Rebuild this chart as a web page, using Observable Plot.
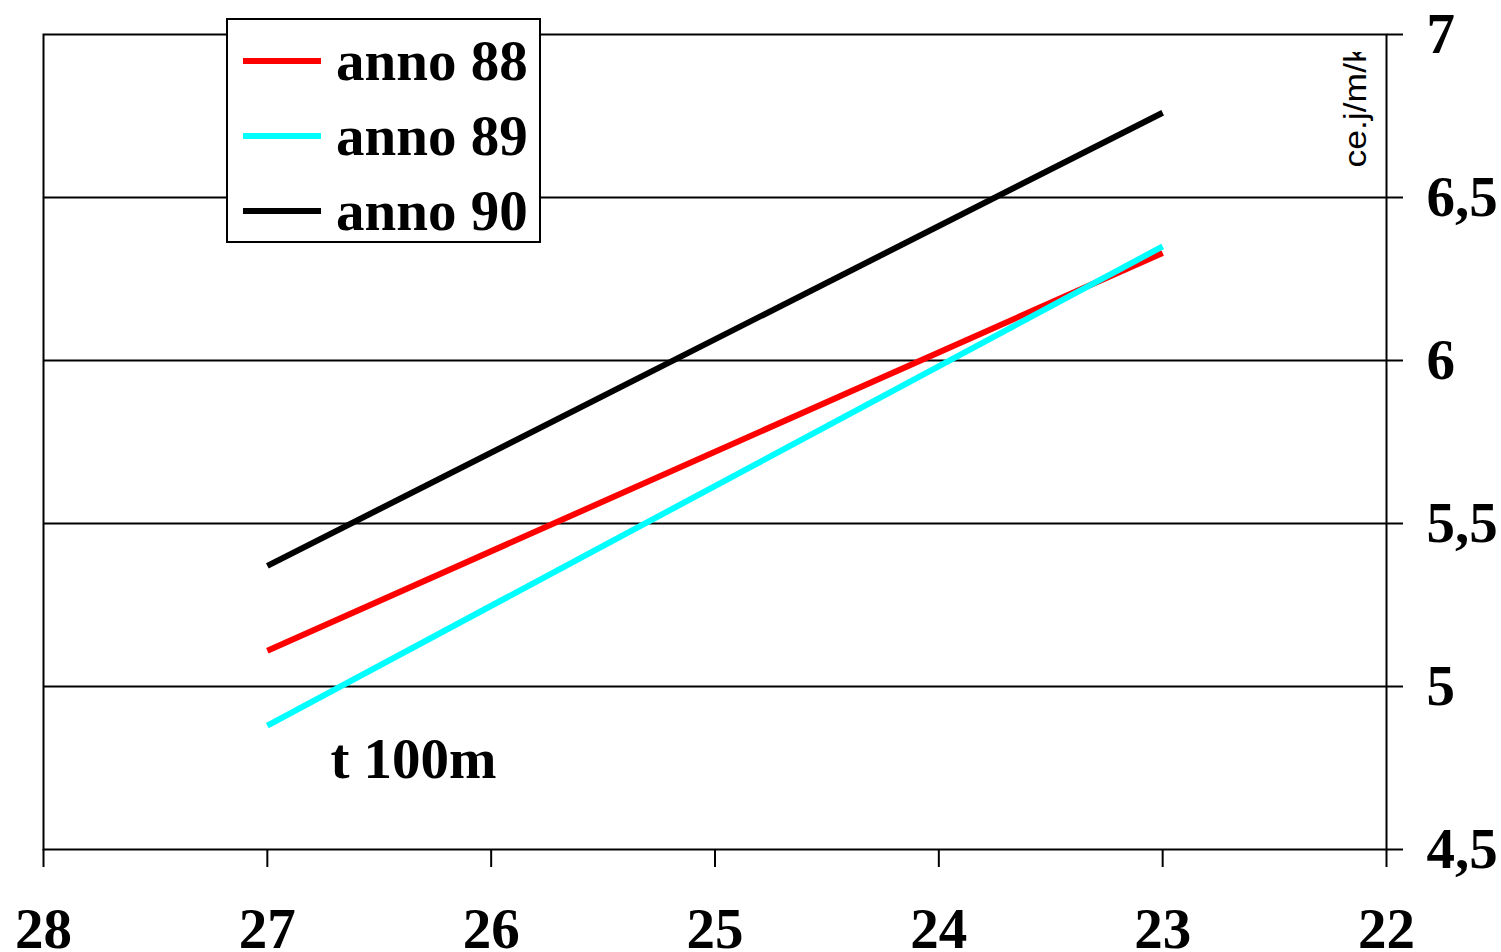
<!DOCTYPE html>
<html><head><meta charset="utf-8">
<script src="https://cdn.jsdelivr.net/npm/d3@7"></script>
<script src="https://cdn.jsdelivr.net/npm/@observablehq/plot@0.6"></script>
<style>
body{margin:0;background:#fff;}
#wrap{position:relative;width:1501px;height:952px;}
#legend{position:absolute;left:226px;top:18px;width:311px;height:221px;border:2px solid #000;background:#fff;font-family:"Liberation Serif","Times New Roman",serif;font-weight:bold;font-size:57px;color:#000;}
.row{position:absolute;left:0;height:75px;display:flex;align-items:center;white-space:nowrap;}
.sw{width:78px;height:6px;margin-left:15px;flex:none;}
.lab{margin-left:15px;line-height:1;}
</style></head><body><div id="wrap"><div id="chart"></div><div id="legend"></div></div>
<script>
const seriesNames = ["anno 88", "anno 89", "anno 90"];
const seriesColors = ["#ff0000", "#00ffff", "#000000"];
const xValues = [27, 23];
const anno88 = [5.11, 6.33];
const anno89 = [4.88, 6.35];
const anno90 = [5.37, 6.76];
const xTicks = [28, 27, 26, 25, 24, 23, 22];
const yTicks = [4.5, 5, 5.5, 6, 6.5, 7];
const gridValues = [5, 5.5, 6, 6.5];
const xLabel = "t 100m";
const yUnit = "ce.j/m/kg";

const rows = [];
[anno88, anno89, anno90].forEach((vals, i) =>
  vals.forEach((v, j) => rows.push({series: seriesNames[i], x: xValues[j], y: v})));

const serif = '"Liberation Serif","Times New Roman",serif';
const sans = '"Liberation Sans",Arial,sans-serif';

const plot = Plot.plot({
  width: 1501, height: 952,
  marginLeft: 43, marginRight: 115, marginTop: 34, marginBottom: 103,
  style: {fontFamily: serif, background: "#fff", color: "#000"},
  x: {domain: [28, 22]},
  y: {domain: [4.5, 7]},
  color: {domain: seriesNames, range: seriesColors},
  marks: [
    Plot.ruleY(gridValues, {stroke: "#000", strokeWidth: 2}),
    Plot.frame({stroke: "#000", strokeWidth: 2}),
    Plot.line(rows, {x: "x", y: "y", z: "series", stroke: "series", strokeWidth: 6, strokeLinecap: "butt"}),
    Plot.axisX(xTicks, {tickSize: 18, tickPadding: 40, fontSize: 57, fontWeight: "bold", stroke: "#000", strokeWidth: 2, strokeOpacity: 1, fill: "#000", tickFormat: d => String(d), label: null}),
    Plot.axisY(yTicks, {anchor: "right", tickSize: 16, tickPadding: 24, fontSize: 57, fontWeight: "bold", stroke: "#000", strokeWidth: 2, strokeOpacity: 1, fill: "#000", tickFormat: d => String(d).replace(".", ","), label: null}),
    Plot.text([xLabel], {frameAnchor: "bottom-left", dx: 370, dy: -72, text: d => d, textAnchor: "middle", fontSize: 57, fontWeight: "bold", fill: "#000"}),
    Plot.text([yUnit], {frameAnchor: "top-right", dx: -43, dy: 133, text: d => d, rotate: -90, textAnchor: "start", fontSize: 31, fontFamily: sans, fill: "#000", className: "unitlabel"})
  ]
});
document.getElementById("chart").appendChild(plot);

// stretch & clip the unit label like the original
const svg = d3.select(plot);
svg.selectAll(".unitlabel text").attr("textLength", 142).attr("lengthAdjust", "spacingAndGlyphs");
const defs = svg.append("defs");
defs.append("clipPath").attr("id", "unitclip").append("rect").attr("x", 1320).attr("y", 52).attr("width", 60).attr("height", 200);
const unitG = svg.select(".unitlabel").node();
if (unitG) {
  const wrapper = document.createElementNS("http://www.w3.org/2000/svg", "g");
  wrapper.setAttribute("clip-path", "url(#unitclip)");
  unitG.parentNode.insertBefore(wrapper, unitG);
  wrapper.appendChild(unitG);
}

// legend
const legend = d3.select("#legend");
seriesNames.forEach((name, i) => {
  const row = legend.append("div").attr("class", "row").style("top", (3 + i * 75) + "px");
  row.append("div").attr("class", "sw").style("background", seriesColors[i]);
  row.append("div").attr("class", "lab").text(name);
});
</script>
</body></html>
